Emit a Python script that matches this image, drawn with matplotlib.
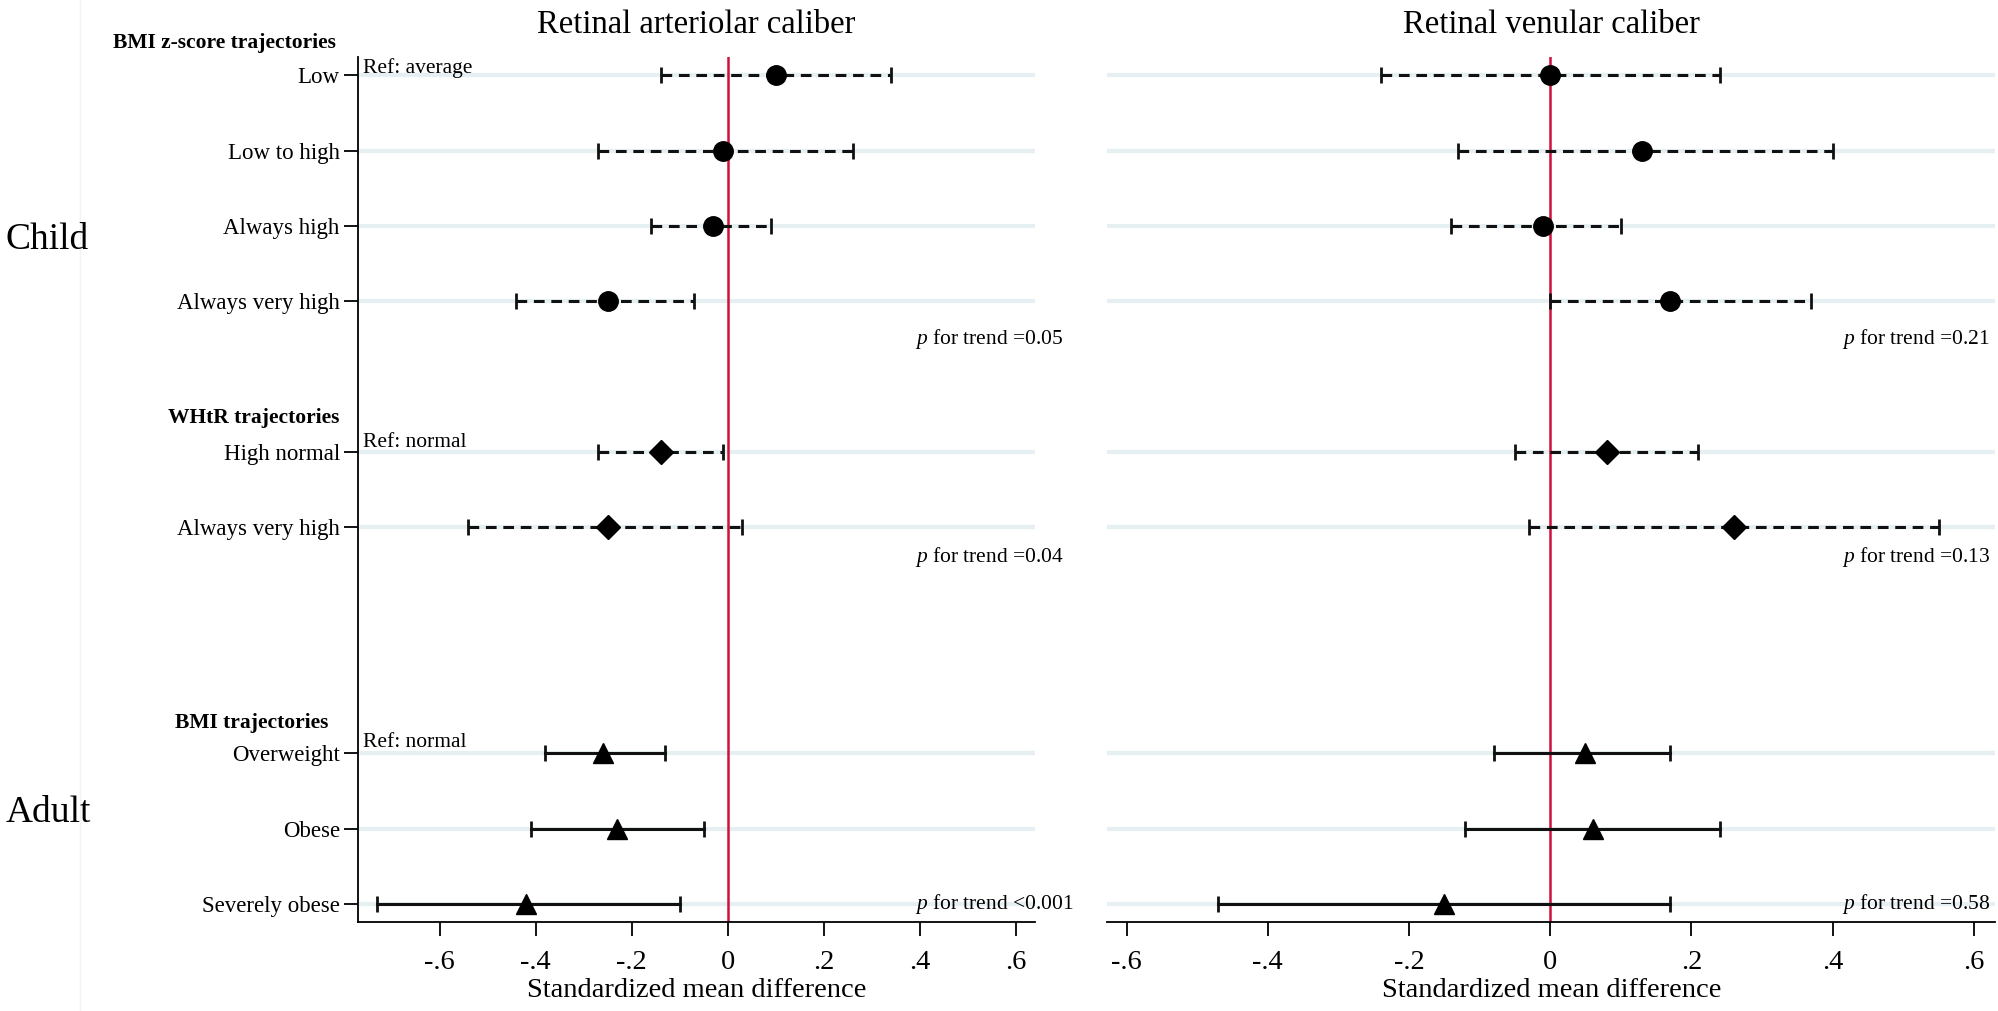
import numpy as np
import matplotlib
matplotlib.use("Agg")
import matplotlib.pyplot as plt

plt.rcParams['font.family'] = ['Liberation Serif', 'DejaVu Serif']
plt.rcParams['mathtext.fontset'] = 'custom'
plt.rcParams['mathtext.rm'] = 'Liberation Serif'
plt.rcParams['mathtext.it'] = 'Liberation Serif:italic'

# rows (top to bottom) and their y positions in the forest plot
row_labels = ['Low', 'Low to high', 'Always high', 'Always very high',
              'High normal', 'Always very high',
              'Overweight', 'Obese', 'Severely obese']
row_pos = [1, 2, 3, 4, 6, 7, 10, 11, 12]
row_marker = ['o', 'o', 'o', 'o', 'D', 'D', '^', '^', '^']
row_dashed = [True] * 6 + [False] * 3

# retinal arteriolar caliber: estimate, lower CI, upper CI
art_est = [0.10, -0.01, -0.03, -0.25, -0.14, -0.25, -0.26, -0.23, -0.42]
art_lo = [-0.14, -0.27, -0.16, -0.44, -0.27, -0.54, -0.38, -0.41, -0.73]
art_hi = [0.34, 0.26, 0.09, -0.07, -0.01, 0.03, -0.13, -0.05, -0.10]

# retinal venular caliber
ven_est = [0.00, 0.13, -0.01, 0.17, 0.08, 0.26, 0.05, 0.06, -0.15]
ven_lo = [-0.24, -0.13, -0.14, 0.00, -0.05, -0.03, -0.08, -0.12, -0.47]
ven_hi = [0.24, 0.40, 0.10, 0.37, 0.21, 0.55, 0.17, 0.24, 0.17]

art_p = ['=0.05', '=0.04', '<0.001']
ven_p = ['=0.21', '=0.13', '=0.58']
p_ypos = [4.5, 7.4, 12.0]

headers = ['BMI z-score trajectories', 'WHtR trajectories', 'BMI trajectories']
header_ypos = [0.57, 5.55, 9.6]
header_x = [-0.815, -0.808, -0.832]
ref_text = ['Ref: average', 'Ref: normal', 'Ref: normal']
ref_ypos = [0.9, 5.87, 9.85]

xticks = [-0.6, -0.4, -0.2, 0, 0.2, 0.4, 0.6]
xticklabels = ['-.6', '-.4', '-.2', '0', '.2', '.4', '.6']

RED = '#d0103a'
GRID = '#e6eff1'

fig = plt.figure(figsize=(19.99, 10.11), dpi=100)
ax1 = fig.add_axes([0.179, 0.088, 0.339, 0.856])
ax2 = fig.add_axes([0.554, 0.088, 0.444, 0.856])

# faint graph-region border on the left
fig.add_artist(plt.Line2D([0.040, 0.040], [0.0, 1.0], color='#f3f3f3', lw=1))


def forest(ax, est, lo, hi, xlim, title, pvals, p_x):
    for y in row_pos:
        ax.axhline(y, color=GRID, lw=3, zorder=0)
    ax.axvline(0, color=RED, lw=1.8, zorder=1)
    for y, e, l, h, m, d in zip(row_pos, est, lo, hi, row_marker, row_dashed):
        ls = (0, (3.5, 2.2)) if d else '-'
        ax.plot([l, h], [y, y], color='#111111', lw=2.2, ls=ls, zorder=2)
        ax.plot([l, h], [y, y], ls='none', marker='|', ms=11, mew=2,
                color='#111111', zorder=2)
        ms = {'o': 14, 'D': 12, '^': 14}[m]
        ax.plot(e, y, marker=m, ms=ms, color='black', ls='none', zorder=3)
    ax.set_xlim(*xlim)
    ax.set_ylim(12.24, 0.75)
    ax.set_xticks(xticks)
    ax.set_xticklabels(xticklabels, fontsize=20.5)
    ax.tick_params(axis='x', length=10, width=1.3, pad=10)
    ax.set_xlabel('Standardized mean difference', fontsize=20.5, labelpad=2)
    ax.set_title(title, fontsize=23.5, pad=17)
    for s in ['top', 'right']:
        ax.spines[s].set_visible(False)
    ax.spines['bottom'].set_linewidth(1.3)
    for txt, y in zip(pvals, p_ypos):
        ax.text(p_x, y, r'$\it{p}$ for trend ' + txt, fontsize=15.5,
                ha='left', va='center', clip_on=False)


forest(ax1, art_est, art_lo, art_hi, (-0.77, 0.64),
       'Retinal arteriolar caliber', art_p, 0.39)
forest(ax2, ven_est, ven_lo, ven_hi, (-0.627, 0.63),
       'Retinal venular caliber', ven_p, 0.413)

# left panel: category labels
ax1.set_yticks(row_pos)
ax1.set_yticklabels(row_labels, fontsize=16.5)
ax1.tick_params(axis='y', length=10, width=1.3, pad=3)
ax1.spines['left'].set_linewidth(1.3)
for txt, y, x in zip(headers, header_ypos, header_x):
    ax1.text(x, y, txt, fontsize=15.5, fontweight='bold', ha='right',
             va='center', clip_on=False)
for txt, y in zip(ref_text, ref_ypos):
    ax1.text(-0.76, y, txt, fontsize=15.5, ha='left', va='center')

# right panel: no y axis
ax2.set_yticks([])
ax2.spines['left'].set_visible(False)

fig.text(0.003, 1 - 240 / 1011, 'Child', fontsize=27, ha='left', va='center')
fig.text(0.003, 1 - 813 / 1011, 'Adult', fontsize=27, ha='left', va='center')

fig.savefig('out.png', dpi=100)
